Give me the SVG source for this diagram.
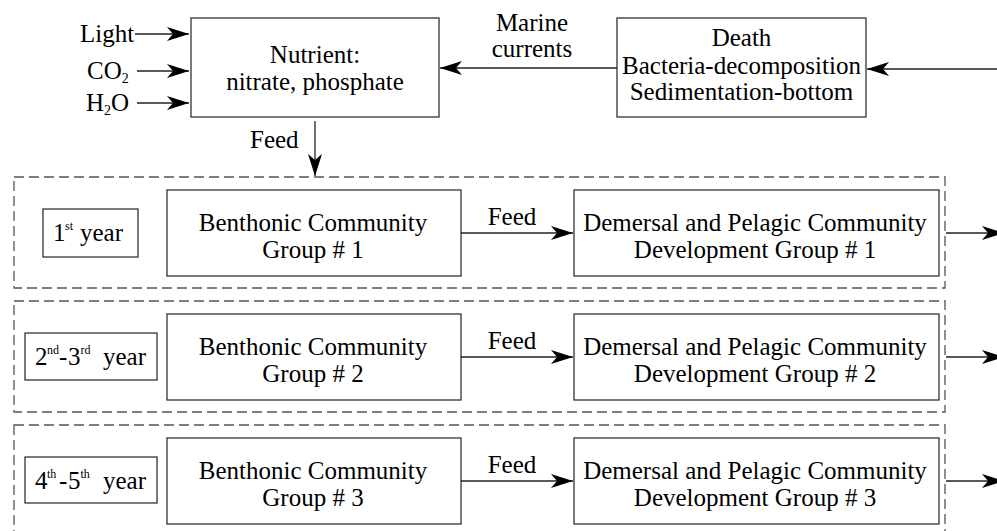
<svg xmlns="http://www.w3.org/2000/svg" width="997" height="531" viewBox="0 0 997 531" font-family="'Liberation Serif', 'DejaVu Serif', serif">
<style>
  text { font-family: 'Liberation Serif', Tinos, 'DejaVu Serif', serif; font-size: 25px; fill: #000; }
  .c { text-anchor: middle; }
  .box { fill: #fff; stroke: #333; stroke-width: 1.3; }
  .dash { fill: none; stroke: #555; stroke-width: 1.3; stroke-dasharray: 10 5; }
  .conn { fill: none; stroke: #222; stroke-width: 1.3; marker-end: url(#ah); }
  .sup { font-size: 12px; }
  .sub { font-size: 14px; }
</style>
<defs>
  <marker id="ah" markerUnits="userSpaceOnUse" markerWidth="23" markerHeight="15" refX="22" refY="7" orient="auto" overflow="visible">
    <path d="M0,0 L22,7 L0,14 L6,7 Z" fill="#000"/>
  </marker>
</defs>
<rect width="997" height="531" fill="#fff"/>

<g id="containers">
  <rect id="row1" class="dash" x="14" y="177" width="931" height="111"/>
  <rect id="row2" class="dash" x="14" y="301" width="931" height="111"/>
  <rect id="row3" class="dash" x="14" y="425" width="931" height="124"/>
</g>

<g id="nutrient">
  <rect class="box" x="191" y="18" width="248" height="99"/>
  <text class="c" x="315" y="63">Nutrient:</text>
  <text class="c" x="315" y="90">nitrate, phosphate</text>
</g>

<g id="death">
  <rect class="box" x="617" y="18" width="249" height="99"/>
  <text class="c" x="741.5" y="46">Death</text>
  <text class="c" x="741.5" y="74">Bacteria-decomposition</text>
  <text class="c" x="741.5" y="100">Sedimentation-bottom</text>
</g>

<g id="inputs">
  <text x="80" y="42">Light</text>
  <text x="87" y="79">CO<tspan class="sub" dy="4">2</tspan></text>
  <text x="86" y="111">H<tspan class="sub" dy="4">2</tspan><tspan dy="-4">O</tspan></text>
</g>

<g id="year1">
  <rect class="box" x="43" y="209" width="95" height="48"/>
  <text y="241"><tspan x="53">1</tspan><tspan class="sup" x="65" dy="-11">st</tspan><tspan x="80" dy="11">year</tspan></text>
</g>
<g id="year2">
  <rect class="box" x="25" y="333" width="132" height="47"/>
  <text y="365"><tspan x="35">2</tspan><tspan class="sup" x="47" dy="-11">nd</tspan><tspan x="59" dy="11">-</tspan><tspan x="68">3</tspan><tspan class="sup" x="80.5" dy="-11">rd</tspan><tspan x="103" dy="11">year</tspan></text>
</g>
<g id="year3">
  <rect class="box" x="25" y="457" width="132" height="46"/>
  <text y="489"><tspan x="35">4</tspan><tspan class="sup" x="47" dy="-11">th</tspan><tspan x="59" dy="11">-</tspan><tspan x="68">5</tspan><tspan class="sup" x="80.5" dy="-11">th</tspan><tspan x="103" dy="11">year</tspan></text>
</g>

<g id="benthonic1">
  <rect class="box" x="167" y="190" width="294" height="86"/>
  <text class="c" x="313" y="231">Benthonic Community</text>
  <text class="c" x="313" y="258">Group # 1</text>
</g>
<g id="benthonic2">
  <rect class="box" x="167" y="314" width="294" height="86"/>
  <text class="c" x="313" y="355">Benthonic Community</text>
  <text class="c" x="313" y="382">Group # 2</text>
</g>
<g id="benthonic3">
  <rect class="box" x="167" y="438" width="294" height="86"/>
  <text class="c" x="313" y="479">Benthonic Community</text>
  <text class="c" x="313" y="506">Group # 3</text>
</g>

<g id="demersal1">
  <rect class="box" x="574" y="190" width="365" height="86"/>
  <text class="c" x="755" y="231">Demersal and Pelagic Community</text>
  <text class="c" x="755" y="258">Development Group # 1</text>
</g>
<g id="demersal2">
  <rect class="box" x="574" y="314" width="365" height="86"/>
  <text class="c" x="755" y="355">Demersal and Pelagic Community</text>
  <text class="c" x="755" y="382">Development Group # 2</text>
</g>
<g id="demersal3">
  <rect class="box" x="574" y="438" width="365" height="86"/>
  <text class="c" x="755" y="479">Demersal and Pelagic Community</text>
  <text class="c" x="755" y="506">Development Group # 3</text>
</g>

<g id="connectors">
  <line class="conn" x1="135" y1="34" x2="189" y2="34"/>
  <line class="conn" x1="137" y1="71" x2="189" y2="71"/>
  <line class="conn" x1="137" y1="103" x2="189" y2="103"/>
  <line class="conn" x1="617" y1="68" x2="440" y2="68"/>
  <line class="conn" x1="1000" y1="69" x2="867" y2="69"/>
  <line class="conn" x1="315" y1="121" x2="315" y2="176"/>
  <line class="conn" x1="461" y1="233" x2="573" y2="233"/>
  <line class="conn" x1="461" y1="357" x2="573" y2="357"/>
  <line class="conn" x1="461" y1="481" x2="573" y2="481"/>
  <line class="conn" x1="946" y1="233" x2="1004" y2="233"/>
  <line class="conn" x1="946" y1="357" x2="1004" y2="357"/>
  <line class="conn" x1="946" y1="481" x2="1004" y2="481"/>
  <g id="connector-labels">
    <text class="c" x="532" y="31">Marine</text>
    <text class="c" x="532" y="57">currents</text>
    <text x="250" y="148">Feed</text>
    <text class="c" x="512" y="225">Feed</text>
    <text class="c" x="512" y="349">Feed</text>
    <text class="c" x="512" y="473">Feed</text>
  </g>
</g>
</svg>
